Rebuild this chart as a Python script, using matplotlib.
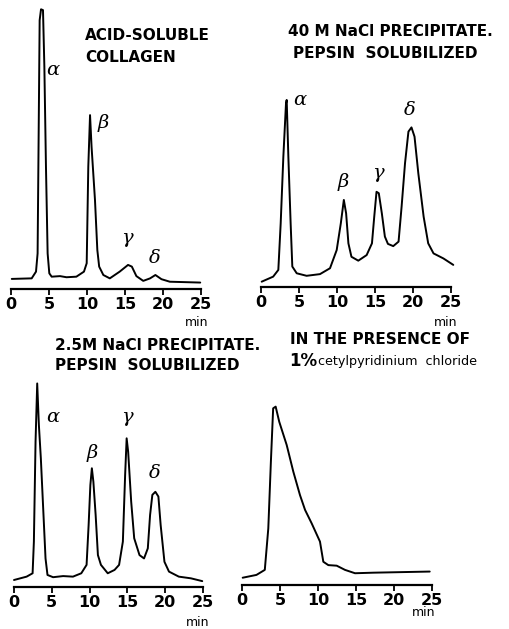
import matplotlib.pyplot as plt
import numpy as np

# elution time (min) and absorbance (arbitrary units, 0-100)
acid_t = [0.1, 2.72, 3.29, 3.5, 3.64, 3.77, 3.95, 4.21, 4.39, 4.6, 4.82, 5.04, 5.35, 6.45, 7.3,
          8.6, 9.6, 9.96, 10.17, 10.4, 10.6, 11.05, 11.36, 11.6, 12.15, 13.0, 14.3, 15.4, 15.9,
          16.5, 17.4, 18.3, 19.0, 19.8, 20.9, 24.9]
acid_y = [3.6, 3.8, 6.2, 12.7, 55.6, 96.0, 99.9, 99.6, 79.4, 43.7, 12.7, 5.6, 4.4, 4.6, 4.2,
          4.4, 6.2, 9.2, 43.7, 62.1, 50.8, 31.8, 13.9, 8.0, 5.0, 3.8, 6.2, 8.6, 8.0,
          4.6, 2.9, 3.8, 5.0, 3.5, 2.6, 2.3]

nacl40_t = [0.09, 1.6, 2.28, 2.59, 2.94, 3.29, 3.38, 3.6, 3.9, 4.12, 4.7, 6.0, 7.76, 9.08, 9.96,
            10.5, 10.9, 11.2, 11.5, 11.9, 12.8, 13.9, 14.6, 14.9, 15.2, 15.5, 15.9, 16.3, 16.7,
            17.4, 18.1, 18.5, 18.95, 19.4, 19.8, 20.2, 20.7, 21.4, 22.0, 22.7, 24.0, 25.3]
nacl40_y = [1.9, 3.7, 6.1, 22.7, 46.5, 65.6, 66.8, 46.5, 22.7, 7.3, 4.9, 4.0, 4.6, 6.7, 13.2,
            22.7, 31.1, 26.3, 15.6, 10.8, 9.4, 11.4, 15.6, 25.1, 34.0, 33.5, 26.3, 18.0, 15.4,
            14.6, 16.2, 28.7, 44.2, 55.5, 57.0, 53.7, 40.6, 25.1, 15.6, 12.0, 10.2, 7.9]

nacl25_t = [0.0, 1.67, 2.46, 2.63, 2.85, 3.07, 3.29, 3.55, 3.86, 4.17, 4.43, 5.17, 6.5, 7.8, 8.9,
            9.6, 9.87, 10.1, 10.3, 10.5, 10.8, 11.1, 11.5, 12.4, 13.3, 13.9, 14.4, 14.7, 14.9,
            15.1, 15.5, 15.9, 16.6, 17.2, 17.7, 18.0, 18.3, 18.7, 19.1, 19.4, 19.9, 20.5, 21.8,
            23.4, 24.9]
nacl25_y = [2.5, 3.7, 4.9, 16.2, 51.9, 72.7, 57.9, 46.0, 28.1, 10.2, 4.3, 3.5, 3.9, 3.7, 4.9,
            7.9, 22.1, 36.4, 42.4, 37.6, 25.7, 11.4, 7.9, 4.9, 6.1, 7.9, 16.2, 40.0, 53.1,
            48.3, 30.5, 17.4, 11.4, 10.2, 13.8, 25.7, 32.9, 34.0, 32.3, 22.1, 9.0, 5.5, 3.7,
            3.1, 2.1]

cpc_t = [0.09, 1.9, 3.0, 3.46, 3.8, 4.1, 4.43, 4.9, 5.88, 6.75, 7.63, 8.3, 9.17, 10.26, 10.7,
         11.36, 12.46, 13.55, 14.87, 17.3, 24.7]
cpc_y = [2.6, 3.6, 5.4, 20.2, 44.0, 63.1, 63.7, 58.3, 50.0, 40.5, 32.1, 26.8, 22.0, 15.5, 8.3,
         7.1, 6.9, 5.4, 4.2, 4.4, 4.8]

ticks = [0, 5, 10, 15, 20, 25]

W, H = 509, 629
fig = plt.figure(figsize=(W / 100, H / 100), dpi=100)


def px(x, y):
    return x / W, 1 - y / H


def panel(left, axis_y, right, t, y):
    ax = fig.add_axes([left / W, (H - axis_y) / H, (right - left) / W, 280 / H])
    ax.plot(t, y, color='black', lw=1.4, clip_on=False,
            solid_joinstyle='round', solid_capstyle='round')
    ax.set_xlim(0, 25)
    ax.set_ylim(0, 100)
    for s in ['top', 'left', 'right']:
        ax.spines[s].set_visible(False)
    ax.spines['bottom'].set_linewidth(1.6)
    ax.set_yticks([])
    ax.set_xticks(ticks)
    ax.tick_params(axis='x', direction='out', length=4, width=1.3, pad=2, labelsize=11.5)
    for lab in ax.get_xticklabels():
        lab.set_fontweight('bold')
    ax.patch.set_alpha(0)
    return ax


panel(11, 289, 201, acid_t, acid_y)
panel(261, 287, 451, nacl40_t, nacl40_y)
panel(14, 587, 203, nacl25_t, nacl25_y)
panel(242, 585, 432, cpc_t, cpc_y)

# "min" under each axis
for x, y in [(197, 323), (446, 323), (198, 623), (424, 613)]:
    fig.text(*px(x, y), 'min', ha='center', va='center', fontsize=9)

# titles
tkw = dict(fontsize=11, fontweight='bold', ha='left', va='center')
fig.text(*px(85, 35), 'ACID-SOLUBLE', **tkw)
fig.text(*px(85, 57), 'COLLAGEN', **tkw)
fig.text(*px(288, 32), '40 M NaCl PRECIPITATE.', **tkw)
fig.text(*px(293, 53), 'PEPSIN  SOLUBILIZED', **tkw)
fig.text(*px(55, 345), '2.5M NaCl PRECIPITATE.', **tkw)
fig.text(*px(55, 366), 'PEPSIN  SOLUBILIZED', **tkw)
fig.text(*px(290, 340), 'IN THE PRESENCE OF', **tkw)
fig.text(*px(289, 361), '1%', fontsize=12, fontweight='bold', ha='left', va='center')
fig.text(*px(318, 362), 'cetylpyridinium  chloride', fontsize=9.2, ha='left', va='center')

# peak labels
gkw = dict(fontsize=14, style='italic', family='DejaVu Serif', ha='center', va='center')
for (x, y), s in [((53, 70), 'α'), ((103, 123), 'β'), ((127, 238), 'γ'), ((155, 258), 'δ'),
                  ((300, 100), 'α'), ((343, 182), 'β'), ((378, 173), 'γ'), ((410, 110), 'δ'),
                  ((53, 417), 'α'), ((92, 453), 'β'), ((127, 417), 'γ'), ((155, 473), 'δ')]:
    fig.text(*px(x, y), s, **gkw)

fig.savefig('out.png', dpi=100)
